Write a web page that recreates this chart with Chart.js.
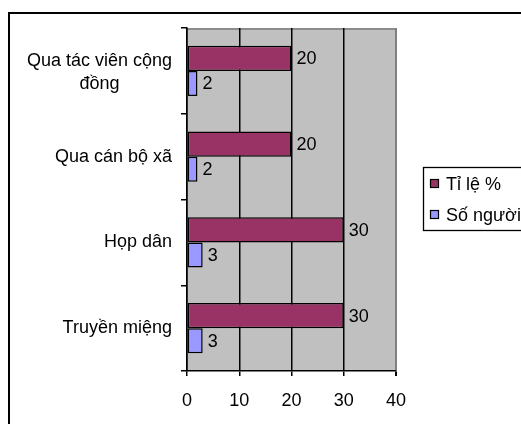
<!DOCTYPE html>
<html>
<head>
<meta charset="utf-8">
<script src="https://cdn.jsdelivr.net/npm/chart.js@4"></script>
<style>
  html, body { margin: 0; padding: 0; background: #fff; overflow: hidden; }
  canvas { display: block; }
</style>
</head>
<body>
<canvas id="c" width="521" height="424"></canvas>
<script>
// Categories (top to bottom), each as the lines it is written on
const categoryLines = [
  ['Qua tác viên cộng', 'đồng'],
  ['Qua cán bộ xã'],
  ['Họp dân'],
  ['Truyền miệng']
];
const categories = categoryLines.map(l => l.join(' '));

// Series
const seriesNames = ['Tỉ lệ %', 'Số người'];
const tiLe = [20, 20, 30, 30];
const soNguoi = [2, 2, 3, 3];
const seriesColors = ['#993366', '#9999FF'];

// Value axis ticks
const xTicks = [0, 10, 20, 30, 40];

const FONT = '"Liberation Sans", Arial, sans-serif';
Chart.defaults.font.family = FONT;
Chart.defaults.font.size = 18;
Chart.defaults.color = '#000';

// Outer frame, grey plot background and top edge of the plot area
const framePlugin = {
  id: 'frame',
  beforeDraw(chart) {
    const { ctx, chartArea: a } = chart;
    ctx.save();
    ctx.fillStyle = '#fff';
    ctx.fillRect(0, 0, chart.width, chart.height);
    ctx.strokeStyle = '#000';
    ctx.lineWidth = 2;
    ctx.strokeRect(9, 13, 600, 600);
    ctx.fillStyle = '#C0C0C0';
    ctx.fillRect(a.left, a.top, a.right - a.left, a.bottom - a.top);
    ctx.strokeStyle = '#8c8c8c';
    ctx.lineWidth = 2;
    ctx.beginPath();
    ctx.moveTo(a.left, a.top + 1);
    ctx.lineTo(a.right, a.top + 1);
    ctx.stroke();
    ctx.restore();
  }
};

// Category labels: block right-aligned to the axis, lines centred within the block
const categoryLabelPlugin = {
  id: 'categoryLabels',
  afterDraw(chart) {
    const { ctx } = chart;
    const y = chart.scales.y;
    const right = y.right - 15;
    const lineH = 23;
    ctx.save();
    ctx.font = '18px ' + FONT;
    ctx.fillStyle = '#000';
    ctx.textAlign = 'center';
    ctx.textBaseline = 'middle';
    categoryLines.forEach((lines, i) => {
      const cy = y.getPixelForValue(i);
      const w = Math.max(...lines.map(t => ctx.measureText(t).width));
      const cx = right - w / 2;
      const top = cy - (lines.length - 1) * lineH / 2 + (lines.length > 1 ? 2 : 0);
      lines.forEach((t, k) => ctx.fillText(t, cx, top + k * lineH));
    });
    ctx.restore();
  }
};

// Value labels at the end of each bar
const valueLabelPlugin = {
  id: 'valueLabels',
  afterDatasetsDraw(chart) {
    const { ctx } = chart;
    ctx.save();
    ctx.font = '18px ' + FONT;
    ctx.fillStyle = '#000';
    ctx.textAlign = 'left';
    ctx.textBaseline = 'middle';
    chart.data.datasets.forEach((ds, di) => {
      chart.getDatasetMeta(di).data.forEach((bar, i) => {
        ctx.fillText(String(ds.data[i]), bar.x + 5, bar.y + 1);
      });
    });
    ctx.restore();
  }
};

// Boxed legend on the right, built from the datasets
const legendPlugin = {
  id: 'boxLegend',
  afterDraw(chart) {
    const { ctx } = chart;
    const x0 = 423, y0 = 167, h = 63;
    ctx.save();
    ctx.fillStyle = '#fff';
    ctx.fillRect(x0, y0, 200, h);
    ctx.strokeStyle = '#000';
    ctx.lineWidth = 1.3;
    ctx.strokeRect(x0 + 0.5, y0 + 0.5, 200, h);
    ctx.font = '18px ' + FONT;
    ctx.textBaseline = 'middle';
    ctx.textAlign = 'left';
    chart.data.datasets.forEach((ds, i) => {
      const cy = y0 + 17 + i * 31;
      ctx.fillStyle = ds.backgroundColor;
      ctx.fillRect(430.5, cy - 4.5, 8, 8);
      ctx.lineWidth = 1.2;
      ctx.strokeRect(430.5, cy - 4.5, 8, 8);
      ctx.fillStyle = '#000';
      ctx.fillText(ds.label, 446, cy + 1);
    });
    ctx.restore();
  }
};

new Chart(document.getElementById('c'), {
  type: 'bar',
  data: {
    labels: categories,
    datasets: [
      {
        label: seriesNames[0],
        data: tiLe,
        backgroundColor: seriesColors[0],
        borderColor: '#000',
        borderWidth: 1.5,
        borderSkipped: false
      },
      {
        label: seriesNames[1],
        data: soNguoi,
        backgroundColor: seriesColors[1],
        borderColor: '#000',
        borderWidth: 1.5,
        borderSkipped: false
      }
    ]
  },
  options: {
    indexAxis: 'y',
    responsive: false,
    animation: false,
    devicePixelRatio: 1,
    layout: { padding: { left: 0, top: 28, right: 125, bottom: 0 } },
    datasets: { bar: { categoryPercentage: 0.585, barPercentage: 1 } },
    plugins: {
      legend: { display: false },
      tooltip: { enabled: false }
    },
    scales: {
      x: {
        type: 'linear',
        min: xTicks[0],
        max: xTicks[xTicks.length - 1],
        afterBuildTicks(scale) { scale.ticks = xTicks.map(v => ({ value: v })); },
        afterFit(scale) { scale.height = 53; },
        ticks: { padding: 14, font: { size: 18 }, color: '#000' },
        grid: {
          color: c => (c.tick && c.tick.value === 40 ? '#808080' : '#000'),
          tickColor: '#000',
          lineWidth: c => (c.tick && c.tick.value === 40 ? 2 : 1.5),
          tickLength: 5
        },
        border: { color: '#000', width: 1.5 }
      },
      y: {
        type: 'category',
        afterFit(scale) { scale.width = 187; },
        ticks: { color: 'rgba(0,0,0,0)', padding: 9 },
        grid: {
          offset: true,
          drawOnChartArea: false,
          color: '#000',
          lineWidth: 1.5,
          tickLength: 6
        },
        border: { color: '#000', width: 1.5 }
      }
    }
  },
  plugins: [framePlugin, categoryLabelPlugin, valueLabelPlugin, legendPlugin]
});
</script>
</body>
</html>
